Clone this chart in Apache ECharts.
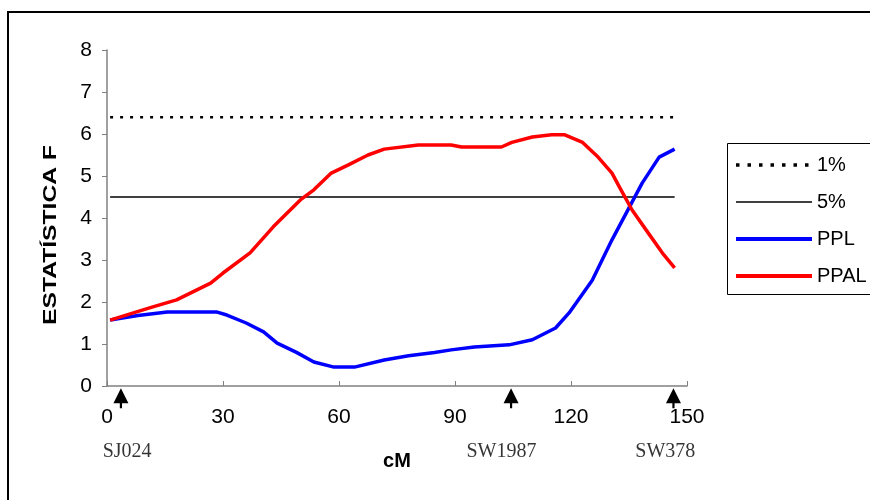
<!DOCTYPE html>
<html lang="pt">
<head>
    <meta charset="UTF-8">
    <title>Estatística F</title>
    <script src="https://cdn.jsdelivr.net/npm/echarts@6/dist/echarts.min.js"></script>
    <style>
        html, body { margin: 0; padding: 0; background: #fff; }
        #main { width: 870px; height: 500px; }
    </style>
</head>
<body>
<div id="main"></div>
<script>
    // limiares
    let limite1 = [[0.8, 6.4], [146.8, 6.4]];
    let limite5 = [[0.8, 4.5], [146.8, 4.5]];
    // PPL (azul)
    let ppl = [[0.8, 1.57], [8, 1.68], [15.6, 1.76], [28.5, 1.76], [31, 1.69], [36, 1.5], [40.5, 1.29],
        [44, 1.02], [49, 0.8], [53.5, 0.57], [58.7, 0.45], [64, 0.45], [71.7, 0.62], [78, 0.72],
        [84.7, 0.8], [89, 0.86], [95, 0.93], [104, 0.98], [110, 1.1], [116, 1.38], [119.5, 1.74],
        [125.5, 2.52], [130.6, 3.48], [135, 4.24], [138.4, 4.83], [142.8, 5.45], [146.8, 5.64]];
    // PPAL (vermelho)
    let ppal = [[0.8, 1.57], [11, 1.86], [18, 2.05], [26.8, 2.45], [30, 2.69], [37, 3.17], [43, 3.79],
        [50, 4.43], [53.5, 4.67], [58, 5.07], [62.3, 5.26], [67.5, 5.5], [71.7, 5.64], [80.5, 5.74],
        [89, 5.74], [91.7, 5.69], [102, 5.69], [104.7, 5.8], [110, 5.93], [115, 5.98], [118.4, 5.98],
        [123, 5.8], [127, 5.45], [130.6, 5.07], [132.5, 4.74], [135.8, 4.19], [140, 3.64],
        [143.6, 3.17], [146.8, 2.81]];
    // marcadores
    let marcadores = ['SJ024', 'SW1987', 'SW378'];
    let marcadorPos = [3.6, 104.5, 146.5];
    let marcadorRotuloPos = [5.2, 102, 144.4];

    let fonte = '"Liberation Sans", Arial, sans-serif';
    let myChart = echarts.init(document.getElementById('main'));
    let seta = 'path://M7.5,0 L15,15 L8.6,15 L8.6,20 L6.4,20 L6.4,15 L0,15 Z';

    let option = {
        animation: false,
        textStyle: { fontFamily: fonte },
        grid: { left: 107, right: 183, top: 50, bottom: 114 },
        legend: {
            orient: 'vertical',
            left: 727,
            top: 143,
            padding: [12, 10, 8, 7],
            itemWidth: 76,
            itemHeight: 14,
            itemGap: 17,
            itemStyle: { opacity: 0 },
            textStyle: { fontSize: 20, color: '#000', fontFamily: fonte },
            data: [
                { name: '1%', lineStyle: { width: 3.5, type: [3.5, 8], color: '#000' } },
                { name: '5%', lineStyle: { width: 1.5, color: '#000' } },
                { name: 'PPL', lineStyle: { width: 4, color: '#0000ff' } },
                { name: 'PPAL', lineStyle: { width: 4, color: '#ff0000' } }
            ]
        },
        xAxis: {
            type: 'value',
            min: 0, max: 150, interval: 30,
            name: 'cM',
            nameLocation: 'middle',
            nameGap: 65,
            nameTextStyle: { fontSize: 20, fontWeight: 'bold', color: '#000', fontFamily: fonte },
            axisLine: { lineStyle: { color: '#808080', width: 1.5 } },
            axisTick: { inside: true, length: 5, lineStyle: { color: '#808080' } },
            axisLabel: { fontSize: 21, color: '#000', margin: 21, fontFamily: fonte },
            splitLine: { show: false }
        },
        yAxis: {
            type: 'value',
            min: 0, max: 8, interval: 1,
            axisLine: { show: true, lineStyle: { color: '#808080', width: 1.5 } },
            axisTick: { show: true, length: 5, lineStyle: { color: '#808080' } },
            axisLabel: { fontSize: 21, color: '#000', margin: 15, fontFamily: fonte },
            splitLine: { show: false }
        },
        graphic: [
            {
                type: 'rect',
                shape: { x: 8, y: 12, width: 880, height: 510 },
                style: { fill: 'none', stroke: '#000', lineWidth: 2 }
            },
            {
                // moldura da legenda
                type: 'rect',
                shape: { x: 727.5, y: 143.5, width: 200, height: 151 },
                style: { fill: 'none', stroke: '#000', lineWidth: 1 }
            },
            {
                type: 'text',
                x: 51, y: 235,
                rotation: Math.PI / 2,
                scaleX: 1.45,
                scaleY: 1.05,
                style: {
                    text: 'ESTATÍSTICA F',
                    font: 'bold 17px "Liberation Sans", Arial, sans-serif',
                    fill: '#000',
                    align: 'center',
                    verticalAlign: 'middle'
                }
            }
        ],
        series: [
            {
                name: '1%', type: 'line', symbol: 'none', data: limite1,
                lineStyle: { color: '#000', width: 2.5, type: [3, 7] },
                itemStyle: { color: '#000' }
            },
            {
                name: '5%', type: 'line', symbol: 'none', data: limite5,
                lineStyle: { color: '#000', width: 1.5 },
                itemStyle: { color: '#000' }
            },
            {
                name: 'PPL', type: 'line', symbol: 'none', data: ppl,
                lineStyle: { color: '#0000ff', width: 3.5 },
                itemStyle: { color: '#0000ff' }
            },
            {
                name: 'PPAL', type: 'line', symbol: 'none', data: ppal,
                lineStyle: { color: '#ff0000', width: 3.5 },
                itemStyle: { color: '#ff0000' }
            },
            {
                type: 'scatter', clip: false, silent: true,
                symbol: seta, symbolSize: [15, 20],
                itemStyle: { color: '#000', opacity: 1 },
                data: marcadorPos.map(x => [x, -0.29])
            },
            {
                type: 'scatter', clip: false, silent: true,
                symbolSize: 0,
                label: {
                    show: true, position: 'inside',
                    fontSize: 20, color: '#000', fontFamily: '"Liberation Serif", "Times New Roman", serif',
                    formatter: p => marcadores[p.dataIndex]
                },
                data: marcadorRotuloPos.map(x => [x, -1.57])
            }
        ]
    };
    myChart.setOption(option);
</script>
</body>
</html>
